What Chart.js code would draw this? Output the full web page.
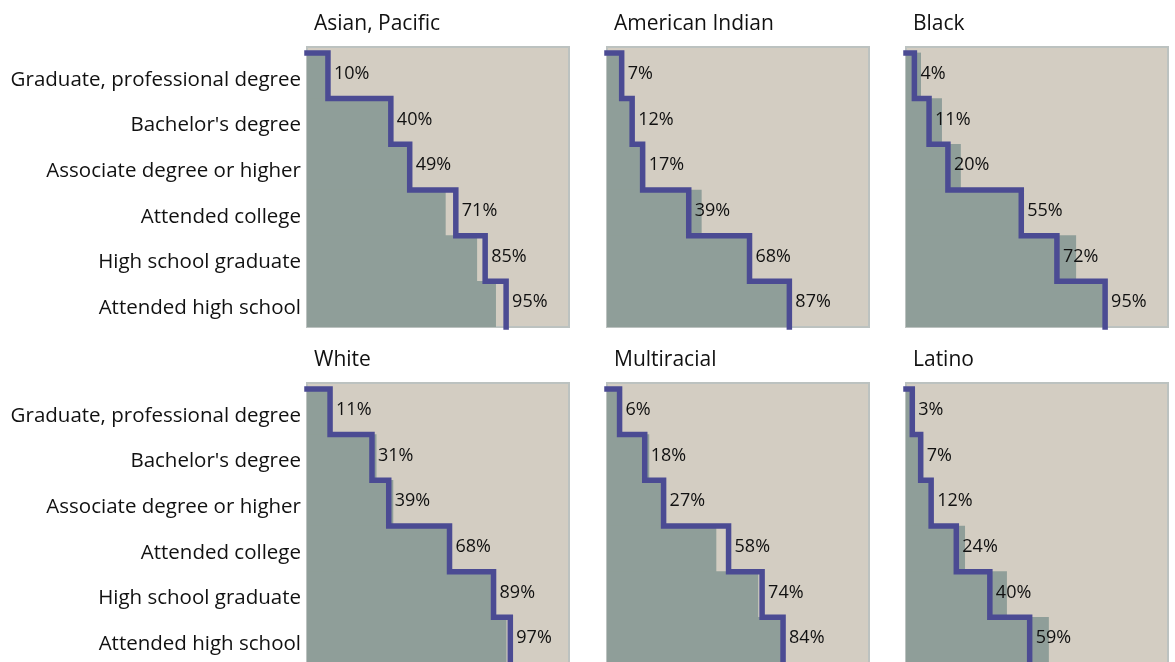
<!DOCTYPE html>
<html>
<head>
<meta charset="utf-8">
<script src="https://cdn.jsdelivr.net/npm/chart.js@4.4.0/dist/chart.umd.min.js"></script>
<style>
  html, body { margin: 0; padding: 0; background: #fff; overflow: hidden; width: 1175px; height: 662px; }
  .panel { position: absolute; }
</style>
</head>
<body>
<div id="wrap"></div>
<script>
// education attainment by group – step line = group, grey bars = comparison
const categories = ['Graduate, professional degree', "Bachelor's degree", 'Associate degree or higher',
  'Attended college', 'High school graduate', 'Attended high school'];
const groups = ['Asian, Pacific', 'American Indian', 'Black', 'White', 'Multiracial', 'Latino'];

const asianLine  = [10, 40, 49, 71, 85, 95];
const amIndLine  = [7, 12, 17, 39, 68, 87];
const blackLine  = [4, 11, 20, 55, 72, 95];
const whiteLine  = [11, 31, 39, 68, 89, 97];
const multiLine  = [6, 18, 27, 58, 74, 84];
const latinoLine = [3, 7, 12, 24, 40, 59];

const asianBar  = [10, 40, 48, 66, 81, 90];
const amIndBar  = [7, 12, 18, 45, 68, 86];
const blackBar  = [7, 17, 26, 55, 81, 94];
const whiteBar  = [11, 33, 41, 67, 88, 95];
const multiBar  = [6, 20, 27, 52, 72, 84];
const latinoBar = [3, 8, 12, 28, 48, 68];

const lineSets = [asianLine, amIndLine, blackLine, whiteLine, multiLine, latinoLine];
const barSets = [asianBar, amIndBar, blackBar, whiteBar, multiBar, latinoBar];

const FONT = '"Open Sans", Lato, sans-serif';
const plotLefts = [307, 607, 906];
const plotTops = [47, 383];
const plotW = 262, plotH = 280, topPad = 47, pad = 6;

const panelDeco = {
  id: 'panelDeco',
  beforeDatasetsDraw(chart) {
    const { ctx, chartArea: a } = chart;
    ctx.save();
    ctx.fillStyle = '#d3cdc2';
    ctx.fillRect(a.left, a.top, a.right - a.left, a.bottom - a.top);
    ctx.strokeStyle = '#bcc2c0';
    ctx.lineWidth = 2;
    ctx.strokeRect(a.left, a.top, a.right - a.left, a.bottom - a.top);
    ctx.restore();
  },
  afterDatasetsDraw(chart) {
    const { ctx, chartArea: a, scales } = chart;
    const o = chart.options.plugins.panelDeco;
    ctx.save();
    ctx.fillStyle = '#111';
    ctx.textBaseline = 'middle';
    ctx.font = '18px ' + FONT;
    ctx.textAlign = 'left';
    o.values.forEach((v, i) => {
      ctx.fillText(v + '%', scales.x.getPixelForValue(v) + 6, scales.y.getPixelForValue(i + 0.5) - 2);
    });
    if (o.showLabels) {
      ctx.font = '20.5px ' + FONT;
      ctx.textAlign = 'right';
      categories.forEach((c, i) => {
        ctx.fillText(c, a.left - 6, scales.y.getPixelForValue(i + 0.5) + 4);
      });
    }
    ctx.font = '21px ' + FONT;
    ctx.textAlign = 'left';
    ctx.textBaseline = 'alphabetic';
    ctx.fillText(o.title, a.left + 7, a.top - 17);
    ctx.restore();
  }
};

groups.forEach((g, k) => {
  const col = k % 3, row = Math.floor(k / 3);
  const showLabels = col === 0;
  const left = showLabels ? 0 : plotLefts[col] - pad;
  const padLeft = showLabels ? plotLefts[0] : pad;
  const width = padLeft + plotW + pad;
  const top = plotTops[row] - topPad;
  const height = topPad + plotH + pad;

  const div = document.createElement('div');
  div.className = 'panel';
  div.style.left = left + 'px';
  div.style.top = top + 'px';
  const canvas = document.createElement('canvas');
  canvas.width = width;
  canvas.height = height;
  div.appendChild(canvas);
  document.getElementById('wrap').appendChild(div);

  const vals = lineSets[k];
  const stepPts = [{ x: 0, y: 0 }].concat(vals.map((v, i) => ({ x: v, y: i + 1 })));

  new Chart(canvas, {
    type: 'bar',
    data: {
      datasets: [
        {
          type: 'line',
          label: g,
          data: stepPts,
          stepped: true,
          borderColor: '#4b4b93',
          borderWidth: 5.5,
          borderCapStyle: 'square',
          borderJoinStyle: 'miter',
          pointRadius: 0,
          fill: false,
          clip: 10,
          order: 0
        },
        {
          label: 'Comparison',
          data: barSets[k].map((v, i) => ({ x: v, y: i + 0.5 })),
          backgroundColor: '#8f9e99',
          borderWidth: 0,
          categoryPercentage: 1,
          barPercentage: 1,
          order: 1
        }
      ]
    },
    options: {
      indexAxis: 'y',
      responsive: false,
      animation: false,
      devicePixelRatio: 1,
      layout: { padding: { top: topPad, bottom: pad, left: padLeft, right: pad } },
      plugins: {
        legend: { display: false },
        tooltip: { enabled: false },
        panelDeco: { values: vals, title: g, showLabels: showLabels }
      },
      scales: {
        x: { type: 'linear', min: 0, max: 125, display: false },
        y: { type: 'linear', reverse: true, offset: false, min: -0.13, max: 6, display: false }
      }
    },
    plugins: [panelDeco]
  });
});
</script>
</body>
</html>
